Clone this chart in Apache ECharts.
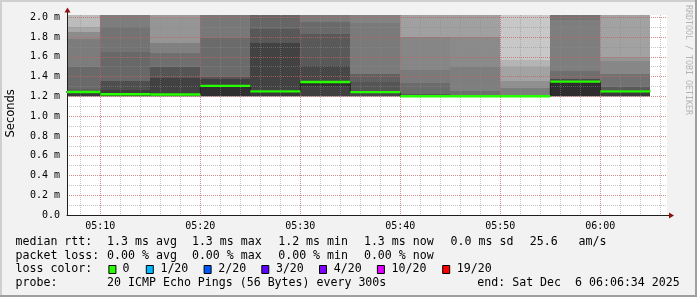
<!DOCTYPE html>
<html><head><meta charset="utf-8">
<script src="https://cdn.jsdelivr.net/npm/echarts@6/dist/echarts.min.js"></script>
<style>html,body{margin:0;padding:0;background:#f2f2f2}#c{width:697px;height:297px}</style>
</head><body><div id="c"></div><script>
// ---------------- data ----------------
const intervalStarts = ['05:05','05:10','05:15','05:20','05:25','05:30','05:35','05:40','05:45','05:50','05:55','06:00'];
const stepMinutes = 5;
const medianRtt = [1.245, 1.222, 1.219, 1.306, 1.251, 1.345, 1.243, 1.201, 1.201, 1.201, 1.349, 1.251];
// smoke band boundaries (ms) per interval, bottom -> top
const smokeBounds = [
  [1.195, 1.205, 1.235, 1.275, 1.50, 1.785, 1.855, 1.905, 2.03],
  [1.195, 1.205, 1.235, 1.265, 1.359, 1.652, 1.905, 2.03],
  [1.195, 1.205, 1.215, 1.385, 1.50, 1.636, 1.74, 1.99, 2.03],
  [1.195, 1.205, 1.315, 1.375, 1.40, 1.79, 2.03],
  [1.195, 1.205, 1.265, 1.744, 1.882, 2.03],
  [1.195, 1.205, 1.30, 1.335, 1.503, 1.833, 1.952, 2.03],
  [1.195, 1.205, 1.254, 1.342, 1.428, 1.946, 2.03],
  [1.195, 1.205, 1.225, 1.339, 1.467, 1.797, 2.03],
  [1.195, 1.205, 1.258, 1.50, 1.80, 2.03],
  [1.195, 1.205, 1.281, 1.36, 1.50, 1.567, 2.03],
  [1.195, 1.205, 1.36, 1.38, 1.46, 1.973, 2.03],
  [1.195, 1.205, 1.265, 1.295, 1.43, 1.555, 1.596, 2.03]
];
// smoke density shade (grey level) of each band
const smokeGrays = [
  [180, 58, 95, 106, 124, 140, 166, 188],
  [180, 51, 62, 78, 104, 115, 125],
  [180, 54, 65, 85, 111, 128, 149, 156],
  [180, 48, 63, 85, 107, 120],
  [180, 56, 66, 88, 102],
  [180, 64, 46, 71, 89, 106, 122],
  [180, 70, 85, 96, 122, 131],
  [180, 85, 107, 122, 134, 160],
  [180, 110, 126, 138, 160],
  [180, 124, 144, 163, 180, 200],
  [180, 46, 74, 110, 126, 116],
  [180, 58, 90, 114, 135, 149, 162]
];
const yTickLabels = ['0.0','0.2 m','0.4 m','0.6 m','0.8 m','1.0 m','1.2 m','1.4 m','1.6 m','1.8 m','2.0 m'];
const rttStats = ['1.3 ms avg','1.3 ms max','1.2 ms min','1.3 ms now','0.0 ms sd','25.6','am/s'];
const lossStats = ['0.00 % avg','0.00 % max','0.00 % min','0.00 % now'];
const lossLabels = ['0','1/20','2/20','3/20','4/20','10/20','19/20'];
const lossColors = ['#26ff00','#00b8ff','#0059ff','#5e00ff','#7e00ff','#dd00ff','#ff0000'];
const probeText = '20 ICMP Echo Pings (56 Bytes) every 300s';
const endText = 'end: Sat Dec  6 06:06:34 2025';

// ---------------- helpers ----------------
function T(hh, mm, ss) { return Date.UTC(2025, 11, 6, hh, mm, ss || 0); }
function parseHM(s) { const p = s.split(':'); return T(+p[0], +p[1], 0); }
function fmtHM(v) { const d = new Date(v); return String(d.getUTCHours()).padStart(2,'0') + ':' + String(d.getUTCMinutes()).padStart(2,'0'); }

const X_MIN = T(5, 6, 40), X_MAX = T(6, 6, 40), Y_MAX = 2.0233;
const GL = 67, GT = 15, GW = 600, GH = 200;
const pxPerMs = GW / (X_MAX - X_MIN);

const smokeData = [], medianData = [], stepData = [];
intervalStarts.forEach((s, i) => {
  const t0 = parseHM(s), t1 = t0 + stepMinutes * 60000;
  const b = smokeBounds[i];
  for (let k = 0; k < b.length - 1; k++) smokeData.push([t0, t1, b[k], b[k + 1], smokeGrays[i][k]]);
  medianData.push([t0, t1, medianRtt[i]]);
  stepData.push([t0, medianRtt[i]]);
  if (i === intervalStarts.length - 1) stepData.push([t1, medianRtt[i]]);
});

const MONO = "'DejaVu Sans Mono', monospace";
const majorColor = 'rgba(222,80,80,0.5)';
const minorColor = 'rgba(140,140,140,0.5)';

const chart = echarts.init(document.getElementById('c'), null, { renderer: 'canvas' });

const majorGridX = T(5, 0, 0), minorGridX = T(5, 6, 0);

// legend graphics
const rowY = [241.8, 255.5, 269.3, 283.1];
const colX = [107.6, 192.4, 278.7, 364.4, 451.1, 530.2, 579.1];
const boxX = [108.4, 145.8, 203.6, 261.3, 319, 376.9, 442.2];
const boxLabelX = [123, 160.9, 218.7, 276.4, 334.2, 392, 457.3];
function txt(x, y, s, extra) {
  return Object.assign({ type: 'text', x: x, y: y, silent: true,
    style: { text: s, fill: '#000', font: '11.6px ' + MONO, verticalAlign: 'middle', align: 'left' } }, extra || {});
}
const graphics = [];
graphics.push(txt(15.5, rowY[0], 'median rtt:'));
rttStats.forEach((s, i) => graphics.push(txt(colX[i] - 0.5, rowY[0], s)));
graphics.push(txt(15.5, rowY[1], 'packet loss:'));
lossStats.forEach((s, i) => graphics.push(txt(colX[i] - 0.5, rowY[1], s)));
graphics.push(txt(15.5, rowY[2], 'loss color:'));
lossLabels.forEach((s, i) => {
  graphics.push({ type: 'rect', shape: { x: boxX[i] + 0.5, y: 265.5, width: 7, height: 8 },
    style: { fill: lossColors[i], stroke: '#000', lineWidth: 1 }, silent: true });
  graphics.push(txt(boxLabelX[i] - 0.5, rowY[2], s));
});
graphics.push(txt(15.5, rowY[3], 'probe:'));
graphics.push(txt(107.1, rowY[3], probeText));
graphics.push(txt(477.3, rowY[3], endText));
// unit label and watermark
graphics.push({ type: 'text', x: 11, y: 113.3, rotation: Math.PI / 2, silent: true,
  style: { text: 'Seconds', fill: '#000', font: "11.5px 'DejaVu Sans', sans-serif", align: 'center', verticalAlign: 'middle' } });
graphics.push({ type: 'text', x: 688.5, y: 60, rotation: -Math.PI / 2, silent: true,
  style: { text: 'RRDTOOL / TOBI OETIKER', fill: '#b4b4b4', font: '8.3px ' + MONO, align: 'center', verticalAlign: 'middle' } });
// frame
graphics.push({ type: 'rect', shape: { x: 0, y: 0, width: 697, height: 2 }, style: { fill: '#cfcfcf' }, silent: true });
graphics.push({ type: 'rect', shape: { x: 0, y: 0, width: 2, height: 297 }, style: { fill: '#cfcfcf' }, silent: true });
graphics.push({ type: 'rect', shape: { x: 0, y: 295, width: 697, height: 2 }, style: { fill: '#9e9e9e' }, silent: true });
graphics.push({ type: 'rect', shape: { x: 695, y: 0, width: 2, height: 297 }, style: { fill: '#9e9e9e' }, silent: true });
// axis extensions and arrows
graphics.push({ type: 'line', shape: { x1: 667, y1: 215.5, x2: 670, y2: 215.5 }, style: { stroke: '#1f1f1f', lineWidth: 1 }, silent: true, z: 20 });
graphics.push({ type: 'line', shape: { x1: 67.5, y1: 15, x2: 67.5, y2: 12 }, style: { stroke: '#1f1f1f', lineWidth: 1 }, silent: true, z: 20 });
graphics.push({ type: 'polygon', shape: { points: [[669, 212.5], [674, 215.5], [669, 218.5]] }, style: { fill: '#8c1010' }, silent: true, z: 20 });
graphics.push({ type: 'polygon', shape: { points: [[64.5, 12.5], [67.5, 7.5], [70.5, 12.5]] }, style: { fill: '#8c1010' }, silent: true, z: 20 });

const option = {
  animation: false,
  backgroundColor: '#f2f2f2',
  grid: [
    { left: GL, top: GT, width: GW, height: GH, show: true, backgroundColor: '#ffffff', borderWidth: 0 },
    { left: GL - (X_MIN - majorGridX) * pxPerMs, top: GT, width: (X_MAX - majorGridX) * pxPerMs, height: GH },
    { left: GL - (X_MIN - minorGridX) * pxPerMs, top: GT, width: (X_MAX - minorGridX) * pxPerMs, height: GH }
  ],
  xAxis: [
    { type: 'value', gridIndex: 0, min: X_MIN, max: X_MAX, z: 6,
      axisLine: { show: true, onZero: false, lineStyle: { color: '#1f1f1f', width: 1 } },
      axisTick: { show: false }, axisLabel: { show: false }, splitLine: { show: false } },
    { type: 'value', gridIndex: 1, min: majorGridX, max: X_MAX, interval: 600000, z: 4,
      axisLine: { show: false }, axisTick: { show: false },
      axisLabel: { show: true, formatter: fmtHM, showMinLabel: false, showMaxLabel: false,
        fontFamily: MONO, fontSize: 10, color: '#000', margin: 6 },
      splitLine: { show: true, showMinLine: false, showMaxLine: false, lineStyle: { color: majorColor, width: 1, type: [1, 1] } } },
    { type: 'value', gridIndex: 2, min: minorGridX, max: X_MAX, interval: 120000, z: 3,
      axisLine: { show: false }, axisTick: { show: false }, axisLabel: { show: false },
      splitLine: { show: true, showMinLine: false, showMaxLine: false, lineStyle: { color: minorColor, width: 1, type: [1, 1] } } }
  ],
  yAxis: [
    { type: 'value', gridIndex: 0, min: 0, max: Y_MAX, interval: 0.2, z: 6,
      axisLine: { show: true, onZero: false, lineStyle: { color: '#1f1f1f', width: 1 } },
      axisTick: { show: false },
      axisLabel: { show: true, showMaxLabel: false, margin: 7, fontFamily: MONO, fontSize: 10, color: '#000',
        formatter: v => yTickLabels[Math.round(v / 0.2)] || '' },
      splitLine: { show: true, showMinLine: false, showMaxLine: false, lineStyle: { color: majorColor, width: 1, type: [1, 1] } } },
    { type: 'value', gridIndex: 0, min: 0, max: Y_MAX, interval: 0.1, z: 3, position: 'right',
      axisLine: { show: false }, axisTick: { show: false }, axisLabel: { show: false },
      splitLine: { show: true, showMinLine: false, showMaxLine: false, lineStyle: { color: minorColor, width: 1, type: [1, 1] } } },
    { type: 'value', gridIndex: 1, min: 0, max: 1, show: false },
    { type: 'value', gridIndex: 2, min: 0, max: 1, show: false }
  ],
  graphic: graphics,
  series: [
    { type: 'custom', xAxisIndex: 0, yAxisIndex: 0, z: 1, data: smokeData,
      encode: { x: [0, 1], y: [2, 3] },
      renderItem: function (params, api) {
        const p1 = api.coord([api.value(0), api.value(3)]);
        const p2 = api.coord([api.value(1), api.value(2)]);
        const g = api.value(4);
        const x1 = Math.round(p1[0]), x2 = Math.round(p2[0]);
        const y1 = Math.round(p1[1]), y2 = Math.round(p2[1]);
        const cs = params.coordSys;
        const r = echarts.graphic.clipRectByRect({ x: x1, y: y1, width: x2 - x1, height: y2 - y1 },
          { x: cs.x, y: cs.y, width: cs.width, height: cs.height });
        if (!r) return null;
        return { type: 'rect', shape: r, style: { fill: 'rgb(' + g + ',' + g + ',' + g + ')' } };
      } },
    { type: 'line', xAxisIndex: 0, yAxisIndex: 0, z: 7, data: stepData, step: 'end', symbol: 'none',
      lineStyle: { color: '#1f1f1f', width: 1 }, clip: true },
    { type: 'custom', xAxisIndex: 0, yAxisIndex: 0, z: 8, data: medianData,
      encode: { x: [0, 1], y: 2 },
      renderItem: function (params, api) {
        const cs = params.coordSys;
        const p1 = api.coord([api.value(0), api.value(2)]);
        const p2 = api.coord([api.value(1), api.value(2)]);
        const xa = Math.max(p1[0], cs.x), xb = Math.min(p2[0], cs.x + cs.width);
        return { type: 'line', shape: { x1: xa, y1: p1[1], x2: xb, y2: p2[1] },
          style: { stroke: '#26ff00', lineWidth: 2.4 } };
      } }
  ]
};
chart.setOption(option);
</script></body></html>
